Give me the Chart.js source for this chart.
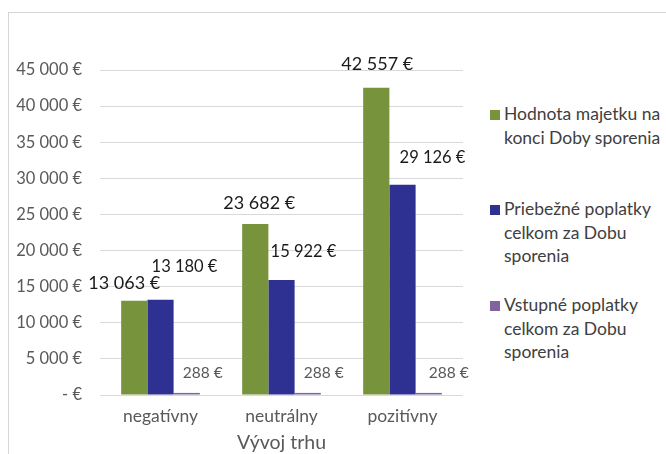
<!DOCTYPE html>
<html>
<head>
<meta charset="utf-8">
<script src="https://cdn.jsdelivr.net/npm/chart.js@4.4.1/dist/chart.umd.min.js"></script>
<style>
  html, body { margin: 0; padding: 0; background: #fff; width: 666px; height: 454px; overflow: hidden; font-family: Lato, "Open Sans", sans-serif; }
  .frame { position: absolute; left: 8px; top: 12px; width: 700px; height: 470px; border-left: 1px solid #d6d6d6; border-top: 1px solid #d6d6d6; }
  .chart-wrap { position: absolute; left: 0; top: 0; width: 475px; height: 454px; }
  .legend { position: absolute; left: 488px; top: 0; width: 178px; color: #404040; font-size: 17.5px; line-height: 23.5px; }
  .legend .item { position: absolute; left: 0; padding-left: 16px; white-space: nowrap; }
  .legend .sw { position: absolute; left: 2px; top: 8px; width: 10px; height: 10px; }
</style>
</head>
<body>
<div class="frame"></div>
<div class="chart-wrap"><canvas id="barChart"></canvas></div>
<div class="legend" id="legend"></div>
<script>
const categories = ['negatívny', 'neutrálny', 'pozitívny'];
const seriesNames = [
  ['Hodnota majetku na', 'konci Doby sporenia'],
  ['Priebežné poplatky', 'celkom za Dobu', 'sporenia'],
  ['Vstupné poplatky', 'celkom za Dobu', 'sporenia']
];
const assetValue = [13063, 23682, 42557];
const runningFees = [13180, 15922, 29126];
const entryFees = [288, 288, 288];
const axisTitle = 'Vývoj trhu';

const colors = ['#77933c', '#2e3192', '#8064a2'];
// manual label nudges (px) per series / category, like the hand-placed Excel labels
const labelNudge = [
  [[-10, -17], [4, -21], [1, -23]],
  [[24, -33], [22, -28], [30, -27]],
  [[16, -20], [16, -20], [20, -20]]
];
const labelFont = ['18px Lato', '16.5px Lato', '15.5px Lato'];
const labelColor = ['#1a1a1a', '#1a1a1a', '#595959'];

function euro(v) {
  if (v === 0) return '- €';
  return String(v).replace(/\B(?=(\d{3})+(?!\d))/g, ' ') + ' €';
}

const valueLabels = {
  id: 'valueLabels',
  afterDatasetsDraw(chart) {
    const ctx = chart.ctx;
    ctx.save();
    ctx.textAlign = 'center';
    ctx.textBaseline = 'middle';
    chart.data.datasets.forEach((ds, di) => {
      const meta = chart.getDatasetMeta(di);
      meta.data.forEach((bar, i) => {
        const [dx, dy] = labelNudge[di][i];
        ctx.font = labelFont[di];
        ctx.fillStyle = labelColor[di];
        ctx.fillText(euro(ds.data[i]), bar.x + dx, bar.y + dy);
      });
    });
    ctx.restore();
  }
};

const legendEl = document.getElementById('legend');
const legendTops = [102, 197, 293];
seriesNames.forEach((lines, i) => {
  const item = document.createElement('div');
  item.className = 'item';
  item.style.top = legendTops[i] + 'px';
  item.innerHTML = '<span class="sw" style="background:' + colors[i] + '"></span>' + lines.join('<br>');
  legendEl.appendChild(item);
});

new Chart(document.getElementById('barChart'), {
  type: 'bar',
  data: {
    labels: categories,
    datasets: [
      { label: seriesNames[0].join(' '), data: assetValue, backgroundColor: colors[0] },
      { label: seriesNames[1].join(' '), data: runningFees, backgroundColor: colors[1] },
      { label: seriesNames[2].join(' '), data: entryFees, backgroundColor: colors[2] }
    ]
  },
  options: {
    responsive: true,
    maintainAspectRatio: false,
    animation: false,
    layout: { padding: { top: 70, right: 12, bottom: 0, left: 0 } },
    datasets: { bar: { categoryPercentage: 0.65, barPercentage: 1 } },
    plugins: { legend: { display: false }, tooltip: { enabled: false } },
    scales: {
      x: {
        grid: { display: false, drawTicks: false },
        border: { display: false },
        ticks: { color: '#595959', font: { family: 'Lato', size: 17.5 }, padding: 11 },
        title: { display: true, text: axisTitle, color: '#595959', font: { family: 'Lato', size: 19.5 }, padding: { top: 0, bottom: 0 } },
        afterFit(scale) { scale.height = 59; }
      },
      y: {
        min: 0,
        max: 45000,
        grid: { color: '#d9d9d9', drawTicks: false },
        border: { display: false },
        ticks: { stepSize: 5000, color: '#595959', font: { family: 'Lato', size: 16.5 }, padding: 18, callback: v => euro(v) },
        afterFit(scale) { scale.width = 100; }
      }
    }
  },
  plugins: [valueLabels]
});
</script>
</body>
</html>
